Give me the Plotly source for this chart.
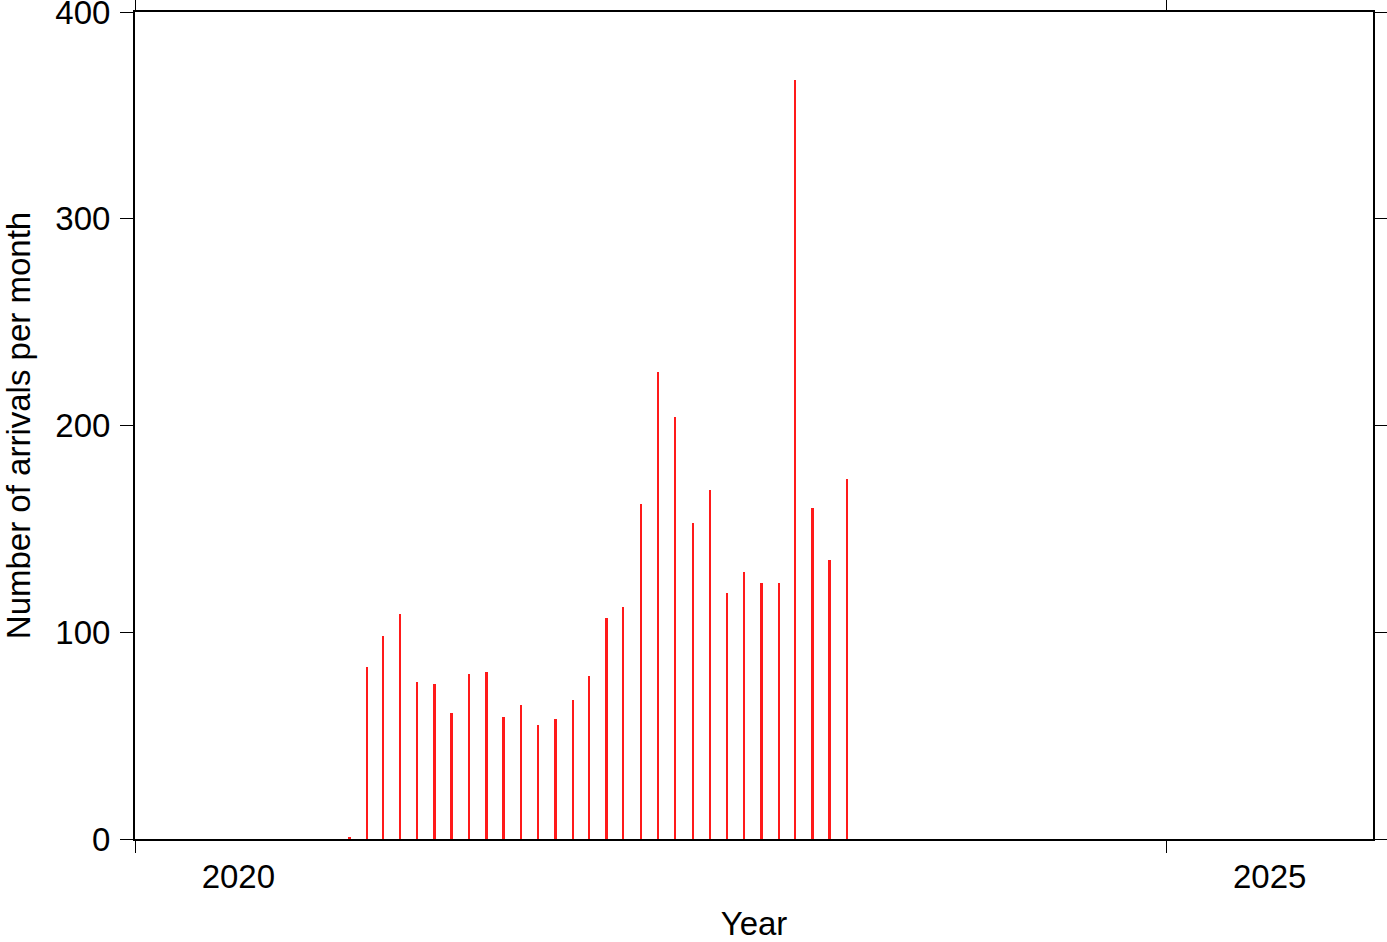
import plotly.graph_objects as go

months = [
    "2021-01-15", "2021-02-15", "2021-03-15", "2021-04-15", "2021-05-15", "2021-06-15",
    "2021-07-15", "2021-08-15", "2021-09-15", "2021-10-15", "2021-11-15", "2021-12-15",
    "2022-01-15", "2022-02-15", "2022-03-15", "2022-04-15", "2022-05-15", "2022-06-15",
    "2022-07-15", "2022-08-15", "2022-09-15", "2022-10-15", "2022-11-15", "2022-12-15",
    "2023-01-15", "2023-02-15", "2023-03-15", "2023-04-15", "2023-05-15", "2023-06-15",
]
arrivals = [
    1, 83, 98, 109, 76, 75,
    61, 80, 81, 59, 65, 55,
    58, 67, 79, 107, 112, 162,
    226, 204, 153, 169, 119, 129,
    124, 124, 367, 160, 135, 174,
]
tick_dates = ["2020-01-01", "2025-01-01"]
label_dates = ["2020-07-02", "2025-07-02"]
label_text = ["2020", "2025"]
y_ticks = [0, 100, 200, 300, 400]

FONT = "Liberation Sans, Arial, Helvetica, sans-serif"
FS = 33
DAY_MS = 86400000

fig = go.Figure()
fig.add_trace(go.Bar(
    x=months, y=arrivals,
    width=[3.3 * DAY_MS] * len(months),
    marker=dict(color="#ff1a1a", line=dict(width=0)),
    showlegend=False,
))
# invisible trace to activate label axis
fig.add_trace(go.Scatter(x=label_dates, y=[0, 0], xaxis="x2", mode="markers",
                         marker=dict(opacity=0), showlegend=False, hoverinfo="skip"))

xr = ["2020-01-01", "2026-01-01"]
fig.update_layout(
    width=1387, height=942,
    margin=dict(l=135, r=14, t=12, b=103, autoexpand=False),
    paper_bgcolor="white", plot_bgcolor="white",
    font=dict(family=FONT, size=FS, color="black"),
    bargap=0,
    xaxis=dict(
        type="date", range=xr, tickvals=tick_dates, showticklabels=False,
        ticks="outside", ticklen=12, tickwidth=1, tickcolor="black",
        showline=True, linewidth=2, linecolor="black", mirror="ticks",
        showgrid=False, zeroline=False, automargin=False,
    ),
    xaxis2=dict(
        type="date", range=xr, overlaying="x", side="bottom",
        tickvals=label_dates, ticktext=label_text, ticks="",
        showline=False, showgrid=False, zeroline=False, automargin=False,
        tickfont=dict(family=FONT, size=FS, color="black"),
        ticklabelstandoff=15, ticklabeloverflow="allow",
        title=dict(text="Year", font=dict(family=FONT, size=FS), standoff=23),
    ),
    yaxis=dict(
        range=[0, 400], tickvals=y_ticks,
        ticks="outside", ticklen=13, tickwidth=1, tickcolor="black",
        showline=True, linewidth=2, linecolor="black", mirror="ticks",
        showgrid=False, zeroline=False, automargin=False,
        tickfont=dict(family=FONT, size=FS, color="black"),
        ticklabelstandoff=3, ticklabeloverflow="allow",
        title=dict(text="Number of arrivals per month", font=dict(family=FONT, size=FS), standoff=47),
    ),
)

fig.write_html("out.html", config={"displayModeBar": False},
               post_script="document.body.style.margin='0';")
